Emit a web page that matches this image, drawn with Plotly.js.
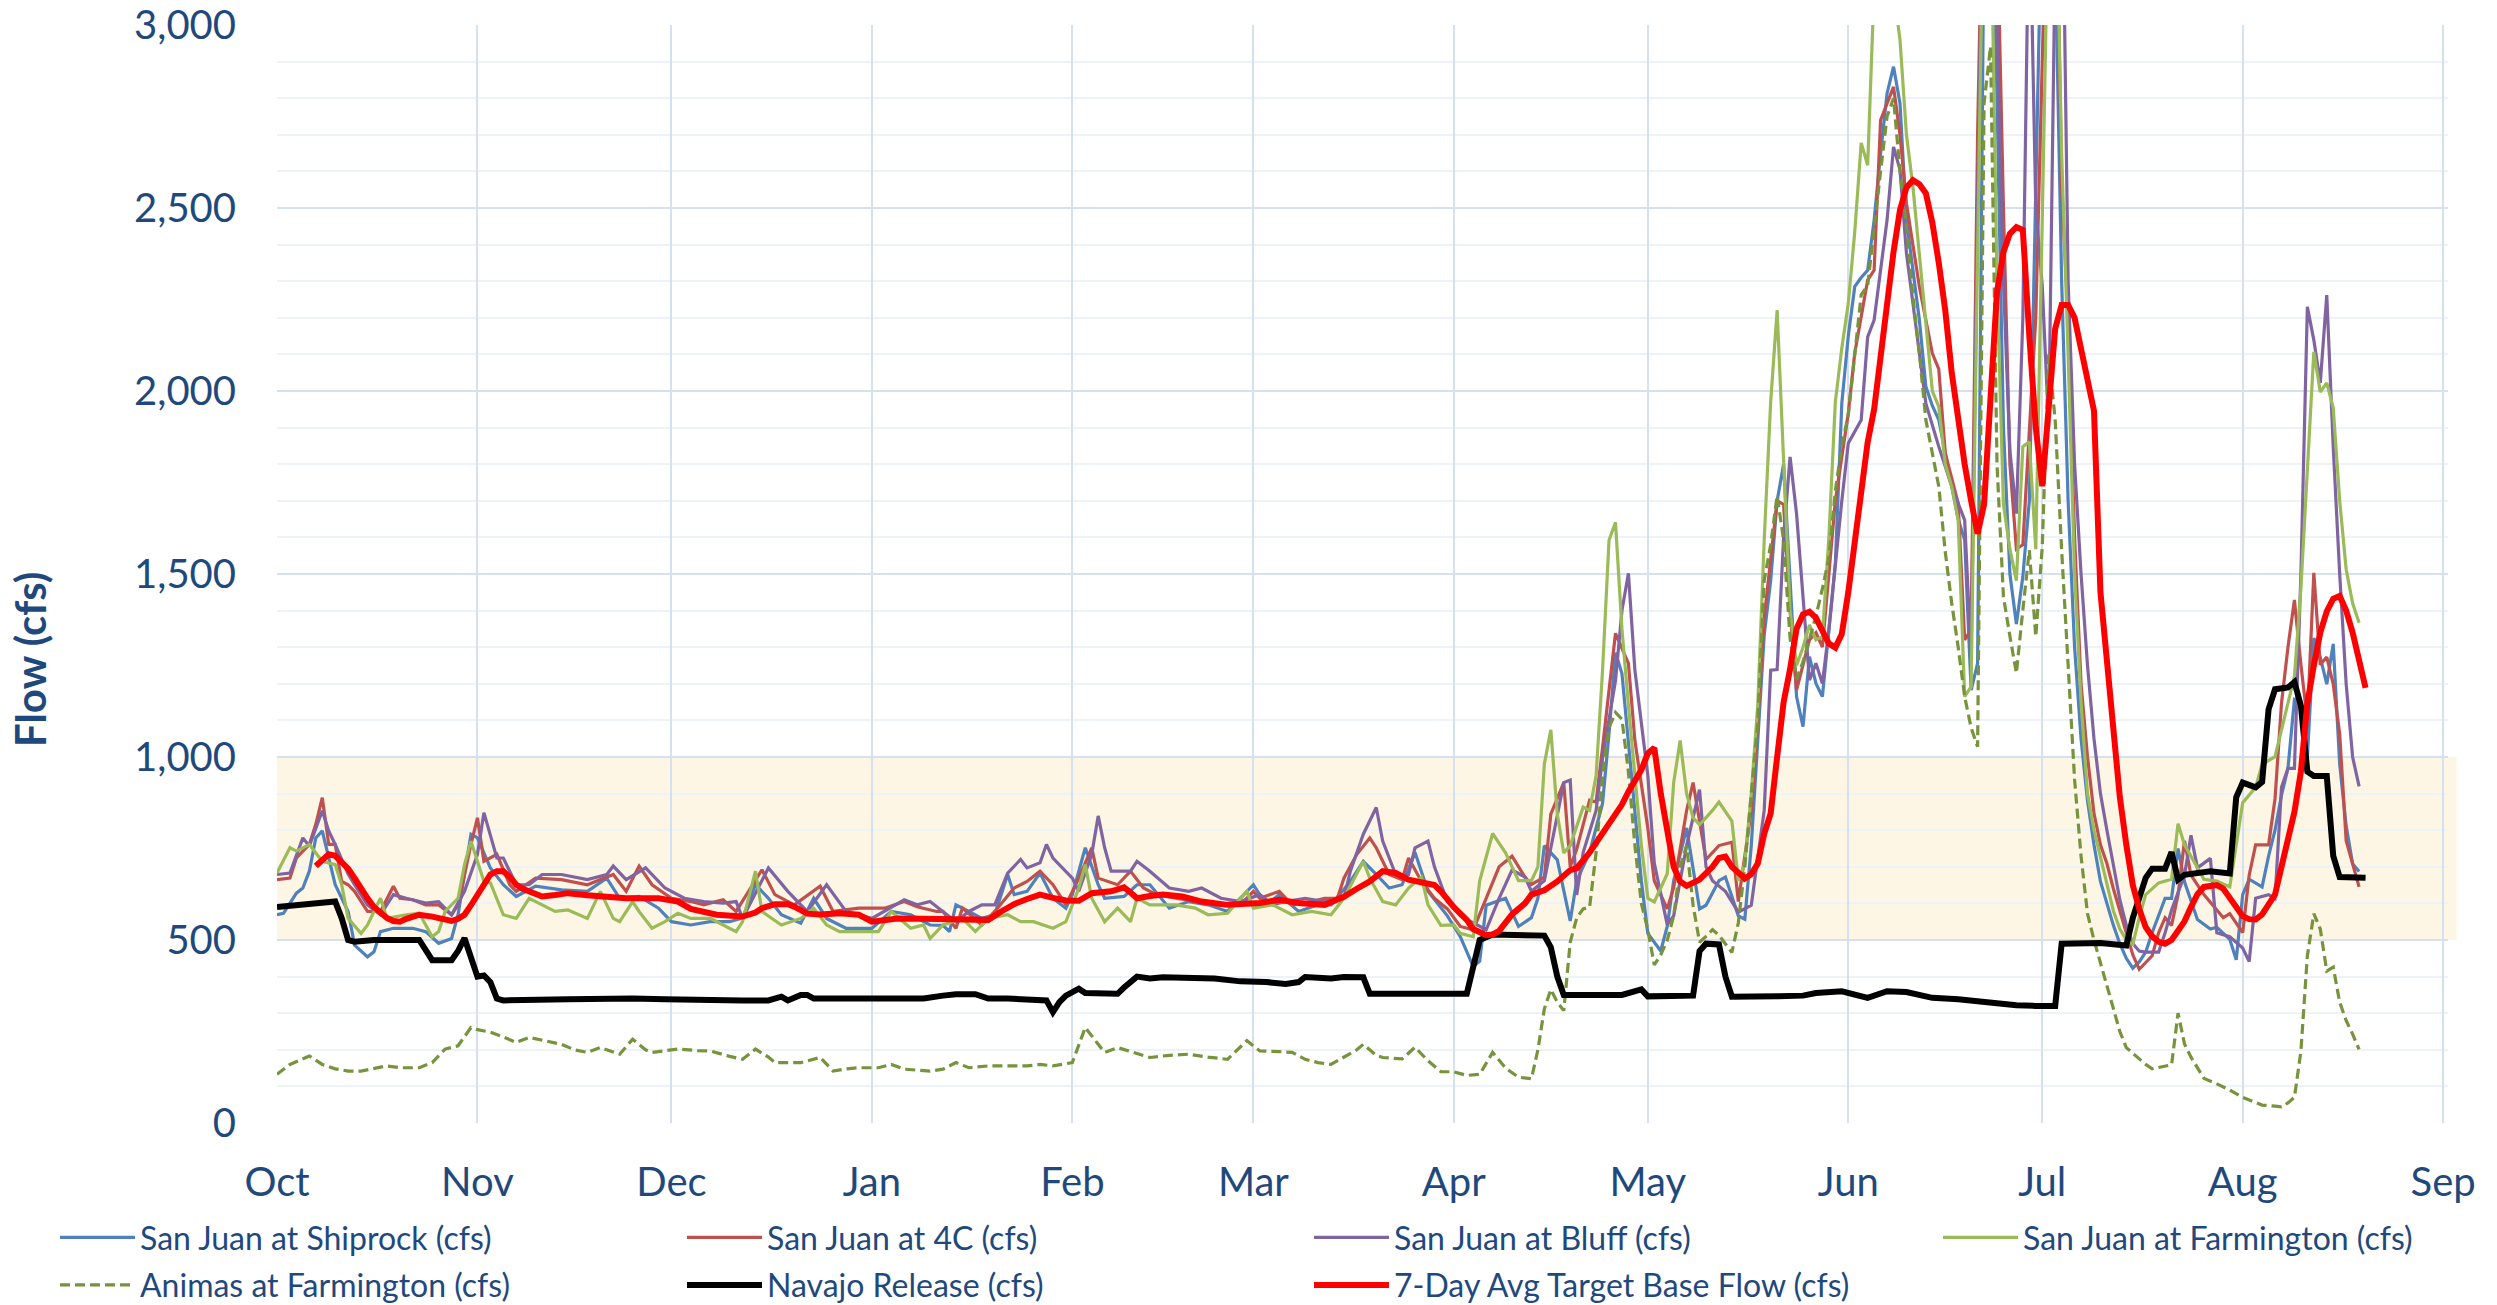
<!DOCTYPE html>
<html>
<head>
<meta charset="utf-8">
<script src="https://cdn.plot.ly/plotly-3.0.1.min.js"></script>
<style>html,body{margin:0;padding:0;background:#fff;}#chart{width:2497px;height:1305px;}</style>
</head>
<body>
<div id="chart"></div>
<script>
// Day offsets are days after 1 Oct 2022; values in cfs.
const startDate = '2022-10-01';
const monthTicks = ['Oct','Nov','Dec','Jan','Feb','Mar','Apr','May','Jun','Jul','Aug','Sep'];

const shiprock = [[0,569],[1,573],[3,628],[4,642],[5,688],[6,779],[7,798],[8,724],[9,651],[11,578],[12,486],[14,454],[15,468],[16,523],[18,532],[21,532],[23,523],[25,491],[27,504],[28,569],[30,789],[31,779],[33,697],[35,651],[37,619],[40,647],[44,637],[48,633],[51,669],[53,614],[56,619],[59,587],[61,550],[64,541],[67,550],[70,550],[72,560],[74,651],[76,614],[78,569],[81,546],[83,614],[85,559],[88,532],[92,532],[95,578],[98,569],[101,541],[103,540],[104,523],[105,596],[107,578],[109,559],[111,569],[113,679],[114,624],[116,633],[118,683],[120,614],[122,587],[123,624],[125,752],[127,651],[128,614],[131,619],[133,651],[135,651],[138,587],[141,605],[144,596],[147,578],[151,651],[153,596],[155,624],[158,578],[161,596],[163,596],[166,660],[168,715],[170,679],[172,642],[174,651],[176,739],[178,633],[181,566],[183,509],[185,427],[186,442],[187,595],[190,614],[192,537],[194,561],[195,614],[196,758],[198,719],[200,552],[201,662],[203,739],[205,873],[206,1064],[207,1285],[208,1228],[209,1045],[211,662],[212,518],[214,470],[215,537],[216,662],[218,806],[220,585],[221,595],[223,662],[224,672],[226,566],[227,557],[228,758],[229,1045],[230,1333],[231,1482],[232,1700],[233,1800],[234,1482],[235,1165],[236,1083],[237,1274],[238,1201],[239,1165],[240,1347],[241,1529],[242,1966],[243,2150],[244,2285],[245,2310],[246,2330],[247,2467],[248,2650],[249,2813],[250,2886],[251,2786],[252,2467],[253,2330],[254,2194],[255,2012],[256,1960],[257,1921],[258,1830],[259,1739],[260,1650],[261,1593],[262,1183],[263,1256],[264,3300],[265,3600],[266,2800],[267,1900],[268,1500],[269,1363],[270,1493],[271,1700],[272,2600],[273,3400],[274,3800],[275,3200],[276,2300],[277,1700],[278,1300],[279,1050],[280,880],[281,760],[282,660],[283,600],[284,540],[285,490],[286,450],[287,423],[288,440],[289,467],[290,520],[292,614],[293,614],[294,750],[295,659],[297,556],[299,530],[300,535],[302,502],[303,446],[304,624],[305,666],[307,645],[308,729],[309,800],[310,896],[311,969],[312,1157],[313,1147],[314,1000],[315,1325],[316,1272],[317,1199],[318,1309],[319,980],[320,812],[321,708],[322,687]];

const fourCorners = [[0,665],[2,669],[3,724],[5,761],[6,816],[7,889],[8,761],[9,761],[10,660],[11,651],[12,633],[14,578],[16,578],[18,647],[19,614],[21,610],[23,596],[25,596],[27,569],[28,596],[30,761],[31,834],[32,715],[34,734],[36,651],[37,633],[40,669],[44,665],[48,651],[52,679],[54,633],[56,702],[58,651],[61,614],[64,605],[66,596],[69,610],[71,578],[75,692],[77,624],[80,596],[84,647],[86,578],[90,587],[94,587],[97,605],[99,591],[102,578],[103,578],[105,532],[106,587],[109,541],[111,578],[114,642],[116,660],[118,688],[120,651],[122,596],[124,669],[126,752],[127,669],[130,651],[132,688],[134,642],[136,624],[139,614],[142,605],[145,596],[149,596],[151,633],[152,614],[155,633],[157,596],[160,605],[162,614],[164,614],[165,669],[167,734],[169,779],[170,752],[172,679],[174,665],[175,724],[177,660],[179,614],[181,585],[183,537],[185,528],[187,614],[189,700],[191,729],[193,672],[194,652],[196,672],[197,844],[199,930],[200,700],[201,748],[203,882],[204,877],[205,1026],[206,1189],[207,1338],[209,1256],[210,1045],[212,806],[213,662],[215,585],[216,643],[218,854],[219,930],[221,720],[223,758],[225,767],[226,605],[228,854],[229,1093],[230,1380],[231,1550],[232,1700],[233,1690],[234,1400],[235,1183],[236,1250],[237,1320],[238,1340],[239,1300],[240,1500],[241,1700],[243,1939],[244,2103],[246,2303],[247,2330],[248,2740],[250,2831],[251,2700],[252,2513],[254,2285],[256,2103],[257,2060],[258,1830],[260,1693],[261,1320],[262,1347],[263,2700],[264,3600],[265,3800],[266,3300],[267,2500],[268,1800],[269,1568],[270,1580],[271,1900],[272,2200],[273,2900],[274,3500],[275,3600],[276,2558],[277,2194],[278,1600],[279,1200],[280,1000],[281,846],[282,760],[283,709],[284,640],[285,580],[286,520],[287,460],[288,420],[290,457],[291,520],[292,561],[293,540],[294,624],[295,771],[296,677],[298,624],[300,582],[301,561],[302,572],[304,520],[305,677],[306,760],[308,760],[309,886],[310,1147],[311,1300],[312,1429],[313,1252],[314,1100],[315,1503],[316,1252],[317,1273],[318,1199],[319,1063],[320,771],[321,708],[322,645]];

const bluff = [[0,679],[2,683],[4,779],[5,756],[7,853],[8,798],[9,761],[11,680],[12,651],[14,596],[16,569],[18,624],[20,614],[23,601],[25,605],[27,569],[29,633],[31,734],[32,848],[34,724],[35,724],[37,651],[39,651],[41,679],[44,679],[48,665],[51,679],[52,702],[54,665],[57,697],[60,642],[63,614],[66,605],[69,601],[71,605],[72,559],[76,697],[79,633],[82,578],[85,651],[88,578],[92,559],[97,610],[99,596],[101,605],[103,578],[105,550],[107,578],[109,596],[111,596],[113,683],[115,720],[116,697],[118,711],[119,761],[120,724],[123,669],[124,633],[126,734],[127,839],[128,752],[129,688],[132,688],[133,715],[135,688],[138,642],[141,633],[143,642],[146,614],[149,605],[152,624],[154,596],[156,605],[159,614],[162,605],[165,614],[166,688],[168,789],[170,862],[171,770],[173,679],[175,679],[176,752],[178,770],[179,700],[181,605],[183,566],[185,547],[187,528],[189,614],[191,691],[193,672],[194,633],[196,662],[198,834],[199,930],[200,937],[201,623],[202,739],[204,854],[205,997],[207,1208],[208,1400],[209,1502],[210,1237],[212,949],[213,710],[215,542],[216,566],[218,758],[220,911],[221,700],[222,662],[224,633],[226,576],[228,595],[230,854],[231,1237],[232,1239],[233,1600],[234,1820],[235,1665],[236,1438],[237,1210],[238,1256],[239,1201],[240,1347],[241,1529],[242,1700],[243,1857],[245,1921],[246,2148],[247,2194],[249,2467],[250,2667],[251,2604],[252,2376],[254,2103],[255,1966],[257,1848],[259,1739],[261,1647],[262,1274],[263,2500],[264,3600],[265,3500],[266,3000],[267,2300],[268,1836],[269,1665],[270,2200],[271,3400],[272,2500],[273,2288],[274,1900],[275,3200],[276,3600],[277,2300],[278,1800],[279,1500],[280,1250],[281,1050],[282,900],[283,800],[284,700],[285,610],[286,540],[287,490],[288,470],[289,467],[291,467],[292,520],[293,582],[295,677],[296,786],[297,697],[299,723],[300,520],[302,509],[304,478],[305,441],[306,614],[308,624],[309,614],[310,917],[311,969],[312,969],[313,1500],[314,2230],[315,2139],[316,2022],[317,2262],[318,1847],[319,1500],[320,1200],[321,1000],[322,920]];

const farmington = [[0,683],[2,752],[3,743],[5,761],[7,715],[9,706],[10,651],[11,559],[13,518],[14,541],[16,614],[17,559],[20,569],[22,573],[24,509],[25,523],[26,578],[28,614],[29,706],[30,770],[32,660],[33,656],[35,569],[37,559],[39,614],[41,596],[43,578],[45,582],[48,559],[50,633],[52,559],[53,550],[55,605],[56,578],[58,532],[60,550],[62,573],[64,559],[67,559],[69,541],[71,523],[72,550],[74,688],[75,578],[78,541],[81,559],[83,587],[85,541],[87,523],[90,523],[93,523],[95,578],[98,532],[100,541],[101,504],[103,541],[106,559],[108,523],[110,559],[113,569],[115,550],[117,550],[120,532],[122,550],[124,642],[125,706],[126,614],[128,550],[130,587],[132,550],[133,614],[135,596],[139,596],[142,587],[144,569],[147,573],[150,633],[151,587],[154,596],[157,569],[160,578],[163,569],[165,614],[168,715],[169,669],[171,605],[173,596],[175,642],[177,672],[178,596],[180,540],[182,541],[183,518],[185,509],[186,662],[188,791],[190,738],[192,662],[194,662],[195,700],[196,981],[197,1074],[198,844],[199,738],[200,758],[202,863],[203,854],[204,949],[205,1237],[206,1592],[207,1641],[208,1350],[209,1141],[211,758],[212,614],[213,604],[215,681],[216,930],[217,1045],[218,900],[219,834],[220,815],[222,854],[223,877],[225,825],[226,662],[227,709],[228,900],[229,1141],[230,1593],[231,1970],[232,2221],[233,1830],[234,1400],[235,1250],[236,1300],[237,1361],[238,1320],[239,1329],[240,1600],[241,1970],[242,2117],[243,2239],[244,2434],[245,2678],[246,2617],[247,3100],[248,3400],[249,3300],[250,3100],[251,2959],[252,2700],[253,2558],[254,2376],[255,2194],[256,2000],[257,1957],[258,1800],[259,1739],[260,1647],[261,1165],[262,1192],[263,2376],[264,3500],[265,3400],[266,2300],[267,1690],[268,1568],[269,1482],[270,1848],[271,1861],[272,1568],[273,2467],[274,3400],[275,3500],[276,2649],[277,2100],[278,1500],[279,1150],[280,900],[281,800],[282,729],[283,650],[284,580],[285,530],[286,500],[287,488],[288,561],[289,624],[290,640],[291,656],[293,666],[294,818],[295,760],[296,729],[297,700],[298,666],[300,661],[302,645],[303,760],[304,875],[306,917],[307,980],[309,1001],[310,1074],[311,1150],[312,1220],[313,1461],[314,1800],[315,2107],[316,1997],[317,2022],[318,1954],[319,1700],[320,1513],[321,1420],[322,1367]];

const animas = [[0,133],[2,160],[5,183],[7,160],[9,148],[11,142],[13,142],[15,150],[17,156],[19,151],[22,151],[24,165],[26,202],[28,211],[30,261],[31,255],[33,248],[35,235],[37,220],[39,234],[42,222],[44,215],[46,200],[48,193],[50,206],[53,188],[55,229],[57,200],[58,193],[62,202],[65,198],[67,197],[70,182],[72,174],[74,202],[76,180],[77,165],[81,165],[84,179],[86,142],[88,148],[90,151],[93,151],[95,160],[97,147],[101,142],[103,147],[105,165],[107,151],[110,156],[113,156],[116,156],[118,160],[120,156],[123,165],[125,261],[127,215],[128,193],[130,206],[133,190],[135,179],[138,185],[141,188],[144,180],[147,174],[150,225],[152,197],[155,195],[157,193],[159,174],[161,165],[163,160],[165,179],[167,200],[168,215],[170,185],[171,179],[174,175],[176,207],[178,170],[180,140],[182,140],[184,130],[186,133],[188,193],[190,150],[192,125],[194,121],[195,200],[196,312],[197,365],[198,330],[199,307],[200,494],[201,560],[202,585],[203,590],[204,739],[205,949],[206,1080],[207,1122],[208,1103],[209,959],[210,758],[211,600],[212,528],[213,432],[214,460],[215,499],[216,566],[217,700],[218,758],[219,595],[220,494],[221,510],[222,528],[223,513],[224,490],[225,466],[226,547],[227,700],[228,900],[229,1093],[230,1482],[231,1580],[232,1714],[233,1592],[234,1324],[235,1214],[236,1260],[237,1320],[238,1385],[239,1460],[240,1544],[241,1727],[242,1850],[243,1934],[244,2092],[245,2263],[246,2288],[247,2450],[248,2600],[249,2750],[250,2800],[251,2600],[252,2450],[253,2258],[254,2103],[255,1921],[256,1830],[257,1739],[258,1560],[259,1420],[260,1300],[261,1165],[262,1080],[263,1028],[264,2786],[265,2941],[266,1800],[267,1438],[268,1330],[269,1229],[270,1402],[271,1565],[272,1329],[273,1575],[274,2100],[275,1921],[276,1565],[277,1252],[278,938],[279,729],[280,572],[281,500],[282,436],[283,370],[284,311],[285,250],[286,206],[287,190],[288,175],[289,160],[290,148],[292,155],[293,159],[294,300],[295,216],[296,180],[297,150],[298,122],[300,107],[302,90],[304,70],[306,55],[307,49],[309,46],[310,44],[311,55],[312,70],[313,196],[314,457],[315,572],[316,530],[317,415],[318,426],[319,330],[320,280],[321,243],[322,201]];

const navajo = [[0,590],[3,595],[5,600],[9,605],[10,560],[11,500],[12,495],[15,500],[22,500],[23,470],[24,445],[27,445],[28,470],[29,505],[30,450],[31,400],[32,403],[33,385],[34,340],[35,335],[45,338],[50,340],[55,340],[60,338],[66,335],[72,335],[76,335],[78,345],[79,335],[81,350],[82,350],[83,340],[90,340],[95,340],[100,340],[103,348],[105,352],[108,352],[110,340],[113,340],[119,335],[120,303],[121,330],[122,348],[124,367],[125,355],[130,353],[131,370],[133,400],[135,395],[137,398],[145,395],[149,387],[153,385],[156,380],[158,385],[159,399],[163,395],[165,399],[168,398],[169,353],[184,353],[185,420],[186,500],[188,515],[196,512],[197,480],[198,400],[199,350],[208,350],[211,365],[212,346],[219,348],[220,470],[221,490],[223,488],[224,400],[225,345],[232,346],[236,348],[238,355],[242,360],[246,342],[249,360],[252,358],[256,342],[260,338],[263,332],[266,326],[269,322],[272,320],[275,320],[276,490],[282,492],[286,485],[287,560],[289,670],[290,695],[292,695],[293,740],[294,665],[295,678],[299,688],[302,682],[303,890],[304,930],[306,917],[307,932],[308,1130],[309,1185],[311,1190],[312,1205],[313,1140],[314,960],[315,948],[317,948],[318,730],[319,672],[323,670]];

const targetBase = [[6,702],[7,718],[8,734],[9,730],[10,715],[11,695],[12,669],[13,640],[14,614],[15,590],[16,573],[17,560],[18,552],[19,550],[20,558],[22,569],[24,564],[26,556],[27,552],[28,558],[29,569],[30,595],[31,624],[32,652],[33,679],[34,688],[35,688],[36,672],[37,651],[38,640],[39,633],[41,619],[43,623],[45,628],[48,622],[50,619],[54,614],[59,614],[62,605],[64,585],[66,575],[68,569],[72,564],[74,575],[75,587],[77,598],[79,598],[80,591],[82,572],[84,570],[87,573],[90,569],[92,550],[94,556],[96,559],[100,558],[104,556],[110,555],[112,578],[114,598],[116,612],[118,624],[120,615],[122,608],[124,607],[126,628],[129,633],[131,644],[132,630],[133,614],[135,620],[137,624],[140,619],[143,605],[147,596],[149,598],[152,601],[155,610],[158,601],[162,596],[165,618],[167,640],[169,660],[171,688],[173,683],[175,665],[177,659],[179,650],[180,633],[182,590],[184,555],[185,530],[187,513],[188,515],[189,525],[190,545],[191,570],[193,600],[194,624],[196,636],[198,660],[200,691],[201,696],[203,739],[205,790],[206,815],[208,870],[209,905],[211,965],[212,1010],[213,1025],[214,900],[215,800],[216,700],[217,660],[218,648],[220,665],[222,700],[223,724],[224,728],[225,700],[227,668],[228,680],[229,709],[230,790],[231,846],[232,1000],[233,1150],[234,1240],[235,1350],[236,1390],[237,1397],[238,1380],[239,1348],[240,1310],[241,1299],[242,1336],[243,1450],[244,1580],[245,1726],[246,1860],[247,1950],[248,2100],[249,2250],[250,2380],[251,2495],[252,2556],[253,2576],[254,2565],[255,2540],[256,2460],[257,2350],[258,2220],[259,2050],[260,1922],[261,1800],[262,1700],[263,1610],[264,1690],[265,2000],[266,2270],[267,2380],[268,2430],[269,2448],[270,2440],[271,2150],[272,1900],[273,1740],[274,1960],[275,2170],[276,2235],[277,2235],[278,2200],[279,2120],[280,2030],[281,1946],[282,1450],[283,1250],[284,1060],[285,890],[286,760],[287,650],[288,585],[289,535],[290,510],[291,495],[292,490],[293,500],[294,525],[295,551],[296,590],[297,625],[298,645],[300,650],[301,640],[302,615],[303,590],[304,565],[305,557],[306,556],[307,570],[308,595],[309,624],[310,700],[311,770],[312,850],[313,960],[314,1147],[315,1250],[316,1340],[317,1398],[318,1432],[319,1440],[320,1400],[321,1340],[322,1270],[323,1189]];

const seriesNames = ['San Juan at Shiprock (cfs)','San Juan at 4C (cfs)','San Juan at Bluff (cfs)','San Juan at Farmington (cfs)','Animas at Farmington (cfs)','Navajo Release (cfs)','7-Day Avg Target Base Flow (cfs)'];

const startMs = Date.UTC(2022, 9, 1);
function toDate(d){ return new Date(startMs + d*86400000).toISOString().slice(0,10); }
function xs(s){ return s.map(p => toDate(p[0])); }
function ys(s){ return s.map(p => p[1]); }

const textColor = '#1F497D';
const FONT = 'Lato, "Open Sans", sans-serif';

function tr(data, name, color, width, dash, legendId, group){
  return {type:'scatter', mode:'lines', x: xs(data), y: ys(data), name: name,
    line:{color: color, width: width, dash: dash || 'solid'}, legend: legendId, legendgroup: group,
    hoverinfo:'x+y+name'};
}

const traces = [
  tr(shiprock, seriesNames[0], '#4F81BD', 3.2, null, 'legend', 'g1'),
  tr(fourCorners, seriesNames[1], '#C0504D', 3.2, null, 'legend2', 'g2'),
  tr(bluff, seriesNames[2], '#8064A2', 3.2, null, 'legend3', 'g3'),
  tr(farmington, seriesNames[3], '#9BBB59', 3.2, null, 'legend4', 'g4'),
  tr(animas, seriesNames[4], '#77933C', 3.2, '10px,5px', 'legend', 'g5'),
  tr(navajo, seriesNames[5], '#000000', 6, null, 'legend2', 'g6'),
  tr(targetBase, seriesNames[6], '#FF0000', 6, null, 'legend3', 'g7')
];

function leg(xpx){
  return {xref:'container', yref:'container', x: xpx/2497, y: 1 - 1210/1305, xanchor:'left', yanchor:'top',
    orientation:'v', font:{family: FONT, size: 32, color: textColor}, bgcolor:'rgba(0,0,0,0)',
    itemwidth: 75, tracegroupgap: 3, traceorder:'grouped'};
}

const layout = {
  width: 2497, height: 1305,
  margin: {l: 277, r: 49, t: 25, b: 182, autoexpand: false},
  paper_bgcolor: '#ffffff', plot_bgcolor: '#ffffff',
  font: {family: FONT, color: textColor},
  showlegend: true,
  legend: leg(55), legend2: leg(682), legend3: leg(1309), legend4: leg(1938),
  xaxis: {
    type:'date', range:['2022-10-01','2023-09-01 18:00'],
    dtick:'M1', tick0:'2022-10-01', tickformat:'%b', tickangle: 0,
    showgrid:true, gridcolor:'#D5E0F0', gridwidth:2,
    ticks:'', showline:false, zeroline:false,
    tickfont:{family: FONT, size: 40, color: textColor},
    ticklabelstandoff: 32
  },
  yaxis: {
    range:[0,3000], dtick:500, tick0:0, tickformat:',',
    showgrid:true, gridcolor:'#D5E0F0', gridwidth:2,
    minor:{dtick:100, showgrid:true, gridcolor:'#EEF2F9', gridwidth:2},
    ticks:'', showline:false, zeroline:false,
    tickfont:{family: FONT, size: 40, color: textColor},
    ticklabelstandoff: 40
  },
  shapes: [{type:'rect', xref:'paper', yref:'y', x0:0, x1:1.004, y0:500, y1:1000,
    fillcolor:'#FDF6E4', line:{width:0}, layer:'below'}],
  annotations: [{text:'<b>Flow (cfs)</b>', xref:'paper', yref:'paper', x:(30-277)/2171, y:(1123-660)/1098,
    xanchor:'center', yanchor:'middle', textangle:-90, showarrow:false,
    font:{family: FONT, size: 42, color: textColor}}]
};

Plotly.newPlot('chart', traces, layout, {displayModeBar:false, staticPlot:true});
</script>
</body>
</html>
